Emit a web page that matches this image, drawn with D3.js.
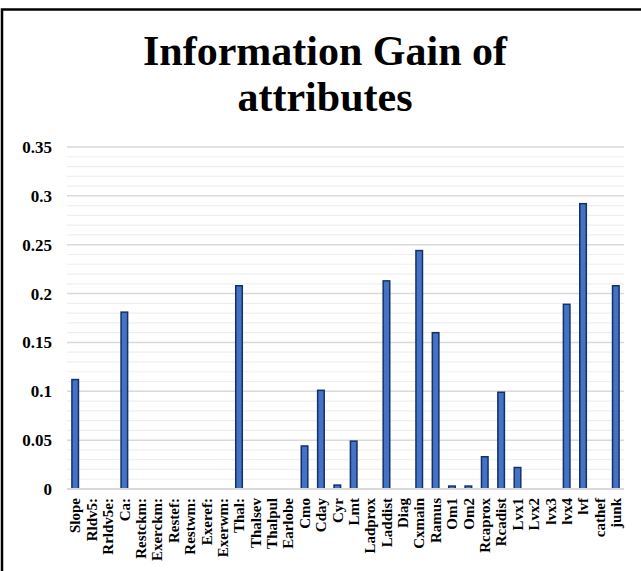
<!DOCTYPE html>
<html><head><meta charset="utf-8">
<script src="https://cdn.jsdelivr.net/npm/d3@7"></script>
<style>body{margin:0;background:#fff}svg{display:block}</style>
</head><body>
<script>
const categories = ["Slope","Rldv5:","Rrldv5e:","Ca:","Restckm:","Exerckm:","Restef:","Restwm:","Exeref:","Exerwm:","Thal:","Thalsev","Thalpul","Earlobe","Cmo","Cday","Cyr","Lmt","Ladprox","Laddist","Diag","Cxmain","Ramus","Om1","Om2","Rcaprox","Rcadist","Lvx1","Lvx2","lvx3","lvx4","lvf","cathef","junk"];
const values = [0.112,0,0,0.181,0,0,0,0,0,0,0.208,0,0,0,0.044,0.101,0.004,0.049,0,0.213,0,0.244,0.160,0.003,0.003,0.033,0.099,0.022,0,0,0.189,0.292,0,0.208];
const majorTicks = [0,0.05,0.1,0.15,0.2,0.25,0.3,0.35];
const minorTicks = d3.range(0,36).map(i=>i/100);
const titleLines = ["Information Gain of","attributes"];

const W=641,H=571;
const svg=d3.select("body").append("svg").attr("width",W).attr("height",H);
svg.append("rect").attr("width",W).attr("height",H).attr("fill","#fff");
svg.append("path").attr("d","M2,571V9.5H641").attr("fill","none").attr("stroke","#000").attr("stroke-width",2.5);

const L=67,R=624,T=147,B=489;
const x=d3.scaleBand().domain(categories).range([L,R]).paddingInner(0.6).paddingOuter(0.3);
const y=d3.scaleLinear().domain([0,0.35]).range([B,T]);

svg.selectAll(".title").data(titleLines).enter().append("text")
  .attr("x",325).attr("y",(d,i)=>65+i*46)
  .attr("text-anchor","middle").attr("font-family","'Liberation Serif','Times New Roman',serif")
  .attr("font-weight","bold").attr("font-size",42).attr("fill","#000").text(d=>d);

// minor grid
svg.append("g").selectAll("line").data(minorTicks.filter(v=>Math.round(v*100)%5!==0)).enter().append("line")
  .attr("x1",L).attr("x2",R).attr("y1",d=>y(d)).attr("y2",d=>y(d))
  .attr("stroke","#efefef").attr("stroke-width",1.2);
// major grid
svg.append("g").selectAll("line").data(majorTicks.filter(v=>v>0)).enter().append("line")
  .attr("x1",L).attr("x2",R).attr("y1",d=>y(d)).attr("y2",d=>y(d))
  .attr("stroke","#d9d9d9").attr("stroke-width",1.5);

// y axis labels
const yAxis=d3.axisLeft(y).tickValues(majorTicks).tickSize(0).tickPadding(15).tickFormat(d=>d===0?"0":String(+d.toFixed(2)));
const yg=svg.append("g").attr("transform",`translate(${L},0)`).call(yAxis);
yg.select(".domain").remove();
yg.selectAll("text").attr("font-family","'Liberation Serif','Times New Roman',serif").attr("font-weight","bold").attr("font-size",17).attr("fill","#000");

// bars
svg.append("g").selectAll("rect").data(values.map((v,i)=>({c:categories[i],v}))).enter()
  .filter(d=>d.v>0).append("rect")
  .attr("x",d=>x(d.c)).attr("width",x.bandwidth())
  .attr("y",d=>y(d.v)).attr("height",d=>y(0)-y(d.v))
  .attr("fill","#4472c4").attr("stroke","#14306a").attr("stroke-width",1.5);

// baseline
svg.append("line").attr("x1",L).attr("x2",R).attr("y1",B).attr("y2",B).attr("stroke","#d9d9d9").attr("stroke-width",2);

// x axis labels
const xAxis=d3.axisBottom(x).tickSize(0).tickPadding(0);
const xg=svg.append("g").attr("transform",`translate(0,${B})`).call(xAxis);
xg.select(".domain").remove();
xg.selectAll("text").attr("transform","rotate(-90)").attr("text-anchor","end")
  .attr("x",-9).attr("y",0).attr("dy","0.35em")
  .attr("font-family","'Liberation Serif','Times New Roman',serif").attr("font-weight","bold").attr("font-size",15).attr("fill","#000");
</script>
</body></html>
